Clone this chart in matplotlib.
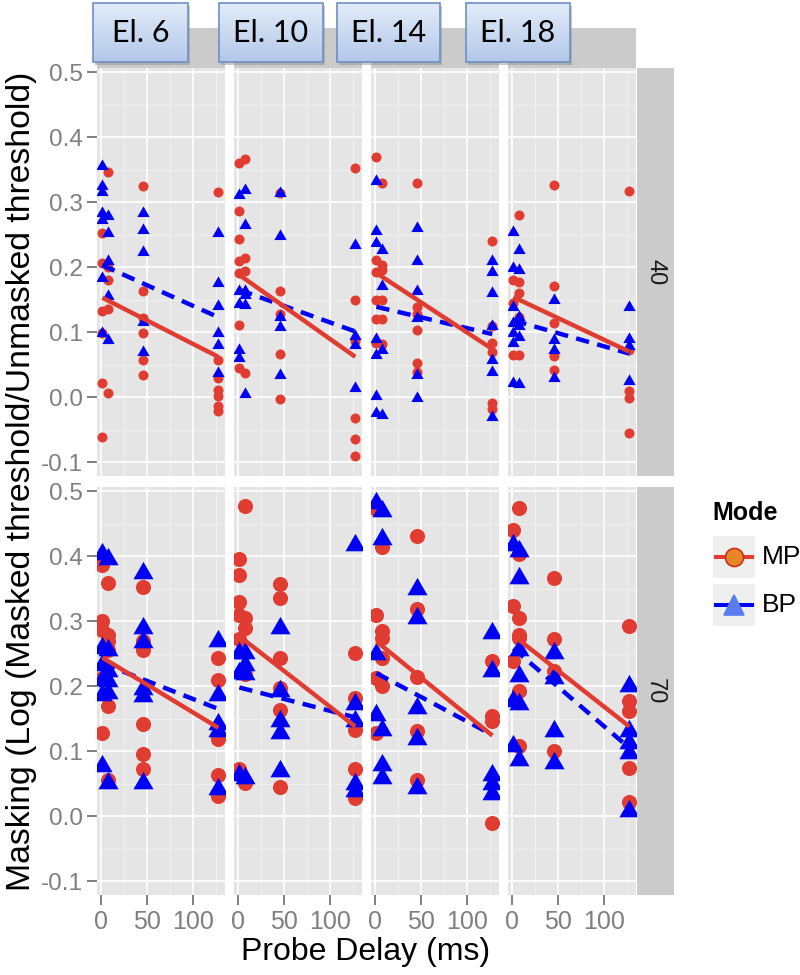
import numpy as np
import matplotlib
matplotlib.use("Agg")
import matplotlib.pyplot as plt
from matplotlib.patches import Rectangle
from matplotlib.lines import Line2D
from matplotlib.colors import LinearSegmentedColormap

plt.rcParams['font.family'] = ['Liberation Sans', 'DejaVu Sans']

# --- DATA ---
electrodes = ['El. 6', 'El. 10', 'El. 14', 'El. 18']
levels = ['40', '70']
modes = ['MP', 'BP']

# one dict per electrode: probe delay (ms) -> masking values
mp40 = [
    {1.5: [0.206, 0.132, 0.098, 0.022, -0.061, 0.252], 8: [0.346, 0.201, 0.180, 0.135, 0.007],
     45: [0.325, 0.164, 0.122, 0.098, 0.057, 0.034], 127: [0.315, 0.057, 0.030, 0.011, 0.001, -0.014, -0.022]},
    {1.5: [0.360, 0.287, 0.243, 0.209, 0.191, 0.111, 0.045], 8: [0.366, 0.214, 0.194, 0.037],
     45: [0.314, 0.163, 0.128, 0.066, -0.003], 127: [0.352, 0.150, 0.086, -0.032, -0.065, -0.091]},
    {1.5: [0.369, 0.211, 0.193, 0.150, 0.120, 0.084], 8: [0.329, 0.203, 0.196, 0.149, 0.120, 0.081],
     45: [0.329, 0.139, 0.128, 0.103, 0.052, 0.038], 127: [0.241, 0.110, 0.083, 0.069, -0.009, -0.019]},
    {1.5: [0.181, 0.145, 0.065], 8: [0.281, 0.177, 0.160, 0.124, 0.065],
     45: [0.326, 0.171, 0.114, 0.063, 0.042], 127: [0.318, 0.073, 0.009, -0.002, -0.056]},
]
bp40 = [
    {1.5: [0.356, 0.325, 0.316, 0.283, 0.273, 0.183, 0.098], 8: [0.278, 0.252, 0.209, 0.155, 0.088],
     45: [0.283, 0.257, 0.223, 0.116, 0.070], 127: [0.252, 0.175, 0.140, 0.098, 0.080, 0.037]},
    {1.5: [0.311, 0.164, 0.143, 0.073, 0.060], 8: [0.319, 0.265, 0.164, 0.157, 0.142, 0.004],
     45: [0.314, 0.248, 0.124, 0.108, 0.034], 127: [0.234, 0.094, 0.080, 0.014]},
    {1.5: [0.332, 0.256, 0.237, 0.089, 0.065, 0.001, -0.025], 8: [0.226, 0.171, 0.073, -0.028],
     45: [0.260, 0.209, 0.163, 0.122, 0.034, -0.002], 127: [0.209, 0.193, 0.160, 0.110, 0.057, 0.038, -0.030]},
    {1.5: [0.254, 0.198, 0.139, 0.114, 0.099, 0.083, 0.022], 8: [0.227, 0.195, 0.124, 0.109, 0.093, 0.020],
     45: [0.150, 0.088, 0.073, 0.029], 127: [0.139, 0.090, 0.078, 0.025]},
]
mp70 = [
    {1.5: [0.387, 0.301, 0.287, 0.213, 0.128], 8: [0.359, 0.279, 0.269, 0.256, 0.169, 0.056],
     45: [0.352, 0.270, 0.256, 0.141, 0.095, 0.072], 127: [0.244, 0.210, 0.118, 0.064, 0.031]},
    {1.5: [0.396, 0.371, 0.330, 0.310, 0.272, 0.072], 8: [0.478, 0.305, 0.290, 0.218, 0.051],
     45: [0.357, 0.336, 0.243, 0.197, 0.164, 0.045], 127: [0.251, 0.182, 0.133, 0.072, 0.028]},
    {1.5: [0.472, 0.310, 0.213, 0.128], 8: [0.415, 0.285, 0.274, 0.244, 0.200],
     45: [0.431, 0.319, 0.214, 0.131, 0.056], 127: [0.238, 0.154, 0.146, -0.010]},
    {1.5: [0.441, 0.323, 0.238], 8: [0.474, 0.403, 0.305, 0.279, 0.274, 0.192, 0.108],
     45: [0.366, 0.272, 0.223, 0.100], 127: [0.292, 0.177, 0.162, 0.074, 0.021]},
]
bp70 = [
    {1.5: [0.403, 0.259, 0.233, 0.210, 0.187, 0.077], 8: [0.395, 0.256, 0.223, 0.208, 0.190, 0.051],
     45: [0.374, 0.290, 0.268, 0.195, 0.185, 0.051], 127: [0.269, 0.187, 0.141, 0.131, 0.041]},
    {1.5: [0.251, 0.220, 0.064], 8: [0.251, 0.233, 0.218, 0.059],
     45: [0.290, 0.192, 0.146, 0.128, 0.069], 127: [0.418, 0.172, 0.146, 0.049, 0.038]},
    {1.5: [0.482, 0.249, 0.156], 8: [0.469, 0.426, 0.133, 0.079, 0.059],
     45: [0.349, 0.305, 0.167, 0.118, 0.043], 127: [0.282, 0.223, 0.064, 0.050, 0.034]},
    {1.5: [0.418, 0.177, 0.108], 8: [0.408, 0.367, 0.256, 0.215, 0.172, 0.087],
     45: [0.251, 0.213, 0.131, 0.082], 127: [0.200, 0.131, 0.113, 0.097, 0.008]},
]

# fitted lines: value at first and last delay
fit_delays = [1.5, 127]
mp40_fit = [[0.153, 0.062], [0.188, 0.062], [0.191, 0.074], [0.154, 0.070]]
bp40_fit = [[0.203, 0.123], [0.165, 0.101], [0.139, 0.097], [0.118, 0.067]]
mp70_fit = [[0.244, 0.136], [0.277, 0.138], [0.269, 0.124], [0.278, 0.138]]
bp70_fit = [[0.235, 0.165], [0.198, 0.152], [0.220, 0.125], [0.258, 0.105]]

points = {'40': (mp40, bp40), '70': (mp70, bp70)}
fits = {'40': (mp40_fit, bp40_fit), '70': (mp70_fit, bp70_fit)}

# --- STYLE ---
W, H = 800, 975
RED = '#e03c32'
BLUE = '#0000f5'
GREY_TXT = '#7f7f7f'
TRI = [(-1, -0.577), (1, -0.577), (0, 1.155)]
circle_size = {'40': 52, '70': 118}
tri_size = {'40': 105, '70': 280}

col_left = [97, 234, 371, 508]
row_top = [68, 487]
panel_w, panel_h = 128, 408


def fig_box(x0, y0, x1, y1):
    return [x0 / W, 1 - y1 / H, (x1 - x0) / W, (y1 - y0) / H]


def flat(groups):
    xs, ys = [], []
    for d, vals in groups.items():
        xs += [d] * len(vals)
        ys += vals
    return xs, ys


fig = plt.figure(figsize=(W / 100, H / 100), dpi=100)

for r, lev in enumerate(levels):
    mp_pts, bp_pts = points[lev]
    mp_fit, bp_fit = fits[lev]
    for c in range(4):
        ax = fig.add_axes(fig_box(col_left[c], row_top[r],
                                  col_left[c] + panel_w, row_top[r] + panel_h))
        ax.set_facecolor('#e5e5e5')
        ax.set_xlim(-4.3, 134.3)
        ax.set_ylim(-0.1215, 0.5066)
        ax.set_xticks([0, 50, 100])
        ax.set_xticks([25, 75, 125], minor=True)
        ax.set_yticks(np.round(np.arange(-0.1, 0.51, 0.1), 1))
        ax.set_yticks(np.round(np.arange(-0.05, 0.5, 0.1), 2), minor=True)
        ax.yaxis.set_major_formatter(plt.FormatStrFormatter('%.1f'))
        ax.grid(which='major', color='white', lw=1.2)
        ax.grid(which='minor', color='#f3f3f3', lw=0.6)
        ax.set_axisbelow(True)
        for s in ax.spines.values():
            s.set_visible(False)
        ax.tick_params(which='major', color=GREY_TXT, length=7, width=1.4,
                       labelcolor=GREY_TXT, labelsize=17.5, pad=3)
        ax.tick_params(axis='x', labelsize=18, pad=4)
        ax.tick_params(which='minor', length=0)
        if c != 0:
            ax.tick_params(axis='y', left=False, labelleft=False)
        if r != 1:
            ax.tick_params(axis='x', bottom=False, labelbottom=False)

        x, y = flat(mp_pts[c])
        ax.scatter(x, y, s=circle_size[lev], color=RED, marker='o', lw=0, zorder=3)
        x, y = flat(bp_pts[c])
        ax.scatter(x, y, s=tri_size[lev], color=BLUE, marker=TRI, lw=0, zorder=3)

        ax.plot(fit_delays, bp_fit[c], color=BLUE, lw=3.2, dashes=(3.0, 1.9),
                solid_capstyle='butt', zorder=4)
        ax.plot(fit_delays, mp_fit[c], color=RED, lw=3.2, solid_capstyle='butt', zorder=5)

# --- decorations in pixel coordinates ---
deco = fig.add_axes([0, 0, 1, 1], zorder=10)
deco.axis('off')

# grey strips
for c in range(4):
    deco.add_patch(Rectangle((col_left[c], 28), panel_w, 40, color='#cbcbcb', lw=0, zorder=1))
for r, lev in enumerate(levels):
    deco.add_patch(Rectangle((637, row_top[r]), 37, panel_h, color='#cbcbcb', lw=0, zorder=1))
    deco.text(655, row_top[r] + panel_h / 2, lev, rotation=-90, ha='center', va='center',
              fontsize=17, color='#1a1a1a')

# electrode label boxes
box_x = [(93, 188), (219, 323), (337, 440), (466, 570)]
grad = LinearSegmentedColormap.from_list('boxgrad', ['#e2ecf9', '#b3c8ea'])
for (x0, x1), lab in zip(box_x, electrodes):
    deco.add_patch(Rectangle((x0 + 2, 6), x1 - x0, 59, color='#8a8a8a', alpha=0.45, lw=0, zorder=2))
    deco.imshow(np.linspace(0, 1, 50).reshape(-1, 1), cmap=grad, aspect='auto',
                extent=(x0, x1, 62, 3), zorder=3)
    deco.add_patch(Rectangle((x0, 3), x1 - x0, 59, fill=False, edgecolor='#6f8fc2', lw=1.2, zorder=4))
    deco.text((x0 + x1) / 2, 33, lab, ha='center', va='center', fontsize=22,
              family=['Lato', 'DejaVu Sans'], color='black', zorder=5)
deco.set_xlim(0, W)
deco.set_ylim(H, 0)

# legend
deco.text(712, 513, 'Mode', fontsize=18, weight='bold', ha='left', va='center')
key_style = [(RED, 'o', '#e8862a', '#c8301e', 13), (BLUE, '^', '#5a7cf2', '#5a7cf2', 14)]
for i, (mode, (lc, mk, fc, ec, ms)) in enumerate(zip(modes, key_style)):
    ky = 536 + i * 48
    deco.add_patch(Rectangle((713, ky), 42, 42, color='#efefef', lw=0, zorder=1))
    deco.add_line(Line2D([716, 752], [ky + 21, ky + 21], color=lc, lw=2.9, zorder=2))
    deco.add_line(Line2D([734], [ky + 21], marker=mk, markersize=ms, markerfacecolor=fc,
                         markeredgecolor=ec, markeredgewidth=1.2, zorder=3))
    deco.text(762, ky + 21, mode, fontsize=19, ha='left', va='center')

# axis titles
fig.text(366 / W, 1 - 952 / H, 'Probe Delay (ms)', ha='center', va='center', fontsize=23)
fig.text(22 / W, 1 - 481 / H, 'Masking (Log (Masked threshold/Unmasked threshold)',
         ha='center', va='center', rotation=90, fontsize=24.3)

fig.savefig('out.png', dpi=100)
